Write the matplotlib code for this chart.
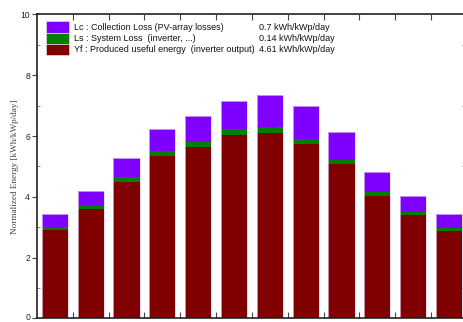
import matplotlib
matplotlib.use("Agg")
import matplotlib.pyplot as plt
from matplotlib.patches import Rectangle
from matplotlib.ticker import MultipleLocator, FixedLocator, NullFormatter
from matplotlib.transforms import ScaledTranslation
import numpy as np

# Monthly normalized energies [kWh/kWp/day]
months = ["Jan", "Feb", "Mar", "Apr", "May", "Jun",
          "Jul", "Aug", "Sep", "Oct", "Nov", "Dec"]
yf = [2.92, 3.60, 4.50, 5.35, 5.63, 6.04, 6.10, 5.74, 5.07, 4.03, 3.40, 2.89]
ls = [0.08, 0.10, 0.14, 0.16, 0.18, 0.18, 0.19, 0.16, 0.15, 0.12, 0.10, 0.09]
lc = [0.44, 0.50, 0.63, 0.73, 0.85, 0.93, 1.07, 1.08, 0.90, 0.68, 0.54, 0.44]

legend_labels = ["Lc : Collection Loss (PV-array losses)",
                 "Ls : System Loss  (inverter, ...)",
                 "Yf : Produced useful energy  (inverter output)"]
legend_values = ["0.7 kWh/kWp/day", "0.14 kWh/kWp/day", "4.61 kWh/kWp/day"]

c_lc, c_ls, c_yf = "#8000ff", "#008000", "#800000"

fig = plt.figure(figsize=(4.64, 3.22), dpi=100)
ax = fig.add_axes([37 / 464, 3.6 / 322, 428 / 464, 304 / 322])

x = np.arange(len(months))
yf_a, ls_a, lc_a = np.array(yf), np.array(ls), np.array(lc)
w = 0.73
ax.bar(x, yf_a, width=w, color=c_yf, linewidth=0)
ax.bar(x, ls_a, width=w, bottom=yf_a, color=c_ls, linewidth=0)
ax.bar(x, lc_a, width=w, bottom=yf_a + ls_a, color=c_lc, linewidth=0)
# faint outline around each full column
ax.bar(x, yf_a + ls_a + lc_a, width=w, fill=False,
       edgecolor="#e0d0ea", linewidth=0.5)

ax.set_xlim(-0.5, 11.45)
ax.set_ylim(0, 10)

ax.xaxis.set_major_locator(FixedLocator(x[:-1] + 0.5))
ax.xaxis.set_major_formatter(NullFormatter())
ax.tick_params(axis="x", which="major", direction="in", length=4, width=0.8,
               top=True, bottom=True, color="#444444")
ax.yaxis.set_major_locator(MultipleLocator(2))
ax.yaxis.set_minor_locator(MultipleLocator(1))
ax.tick_params(axis="y", which="major", direction="out", length=3.5, width=0.8,
               labelsize=6.2, labelcolor="#222222", color="#444444", pad=1.5,
               right=True)
ax.tick_params(axis="y", which="minor", direction="in", length=2, width=0.6,
               color="#777777", right=True)
fig.canvas.draw()
for lab in ax.get_yticklabels():
    lab.set_fontfamily("Liberation Sans")
    if lab.get_text() == "0":
        # keep the bottom label inside the figure
        lab.set_transform(lab.get_transform() +
                          ScaledTranslation(0, 1.5 / 72, fig.dpi_scale_trans))

for side in ("left", "bottom", "top", "right"):
    ax.spines[side].set_linewidth(1.2)
    ax.spines[side].set_color("#222222")

ax.set_ylabel("Normalized Energy [kWh/kWp/day]", family="Liberation Serif",
              fontsize=6.6, color="#444444", labelpad=1)

# Legend box drawn in axes fraction
px = lambda v: v / 428
py = lambda v: 1 - (v - 14.4) / 304
colors = [c_lc, c_ls, c_yf]
tops = [21, 33, 44]
bots = [33, 44, 55]
for col, t, b, lab, val in zip(colors, tops, bots, legend_labels, legend_values):
    ax.add_patch(Rectangle((px(46 - 37), py(b)), px(23), py(t) - py(b),
                           transform=ax.transAxes, facecolor=col,
                           edgecolor="#e6d6ee", linewidth=0.5))
    yc = py((t + b) / 2)
    ax.text(px(74 - 37), yc, lab, transform=ax.transAxes, fontsize=6.5,
            family="Liberation Sans", va="center", ha="left", color="#111111")
    ax.text(px(259 - 37), yc, val, transform=ax.transAxes, fontsize=6.5,
            family="Liberation Sans", va="center", ha="left", color="#111111")

fig.savefig("out.png", dpi=100)
